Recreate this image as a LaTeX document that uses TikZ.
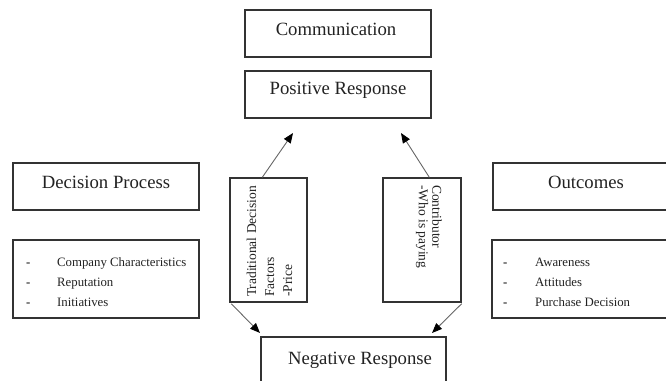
\documentclass[tikz,border=0pt]{standalone}
\usepackage{fontspec}
\setmainfont{Liberation Serif}
\usetikzlibrary{arrows.meta,calc}
\definecolor{ink}{HTML}{222222}
\definecolor{edge}{HTML}{333333}
\definecolor{arr}{HTML}{666666}
\tikzset{
  box/.style={draw=edge,line width=1.4pt,inner sep=0pt,text=ink},
  title/.style={font=\fontsize{18.7}{22}\selectfont,text=ink,inner sep=0pt},
  item/.style={font=\fontsize{12.8}{15}\selectfont,text=ink,inner sep=0pt,anchor=base west},
  dashitem/.style={font=\fontsize{12.8}{15}\selectfont\bfseries,text=ink,inner sep=0pt,anchor=base west},
  rot/.style={font=\fontsize{13.5}{18}\selectfont,text=ink,inner sep=0pt,align=left},
  conn/.style={draw=arr,line width=0.9pt,-{Triangle[length=10pt,width=8pt,color=black]}}
}
\begin{document}
\begin{tikzpicture}[x=1pt,y=-1pt]
\useasboundingbox (0,0) rectangle (666,380);
\clip (0,0) rectangle (666,380);
% top boxes
\node[box,minimum width=186pt,minimum height=47pt] (comm) at (338,33.5) {};
\node[title] (commt) at (336,29) {Communication};
\node[box,minimum width=186pt,minimum height=47pt] (pos) at (338,94.5) {};
\node[title] (post) at (338,90) {Positive Response};
% left
\node[box,minimum width=186pt,minimum height=47pt] (dec) at (106,186.5) {};
\node[title] (dect) at (106,182) {Decision Process};
\node[box,minimum width=186pt,minimum height=78pt] (declist) at (106,279) {};
\node[dashitem] (d1) at (26,266) {-};
\node[item] (d1t) at (57,266) {Company Characteristics};
\node[dashitem] (d2) at (26,286) {-};
\node[item] (d2t) at (57,286) {Reputation};
\node[dashitem] (d3) at (26,306) {-};
\node[item] (d3t) at (57,306) {Initiatives};
% right
\node[box,minimum width=186pt,minimum height=47pt] (out) at (586,186.5) {};
\node[title] (outt) at (586,182) {Outcomes};
\node[box,minimum width=186pt,minimum height=78pt] (outlist) at (585,279) {};
\node[dashitem] (o1) at (503,266) {-};
\node[item] (o1t) at (535,266) {Awareness};
\node[dashitem] (o2) at (503,286) {-};
\node[item] (o2t) at (535,286) {Attitudes};
\node[dashitem] (o3) at (503,306) {-};
\node[item] (o3t) at (535,306) {Purchase Decision};
% middle boxes
\node[box,minimum width=77pt,minimum height=124pt] (trad) at (268.5,240) {};
\node[rot,rotate=90,anchor=north west] (tradt) at (246.5,297) {Traditional Decision\\Factors\\-Price};
\node[box,minimum width=78pt,minimum height=124pt] (contr) at (422,240) {};
\node[rot,rotate=-90,anchor=north west,font=\fontsize{13.5}{13.5}\selectfont] (contrt) at (442,185) {Contributor\\-Who is paying};
% bottom box
\node[box,minimum width=185pt,minimum height=60pt] (neg) at (353.5,367) {};
\node[title] (negt) at (360,360) {Negative Response};
% connectors
\coordinate (tipPL) at (293,133);
\coordinate (tipPR) at (401,133);
\coordinate (tipNL) at (260,333);
\coordinate (tipNR) at (432,333);
\draw[conn] ($(trad.north west)+(33,0)$) -- (tipPL);
\draw[conn] ($(contr.north west)+(47,0)$) -- (tipPR);
\draw[conn] ($(trad.south west)+(2,1)$) -- (tipNL);
\draw[conn] ($(contr.south east)+(0,1)$) -- (tipNR);
\end{tikzpicture}
\end{document}
